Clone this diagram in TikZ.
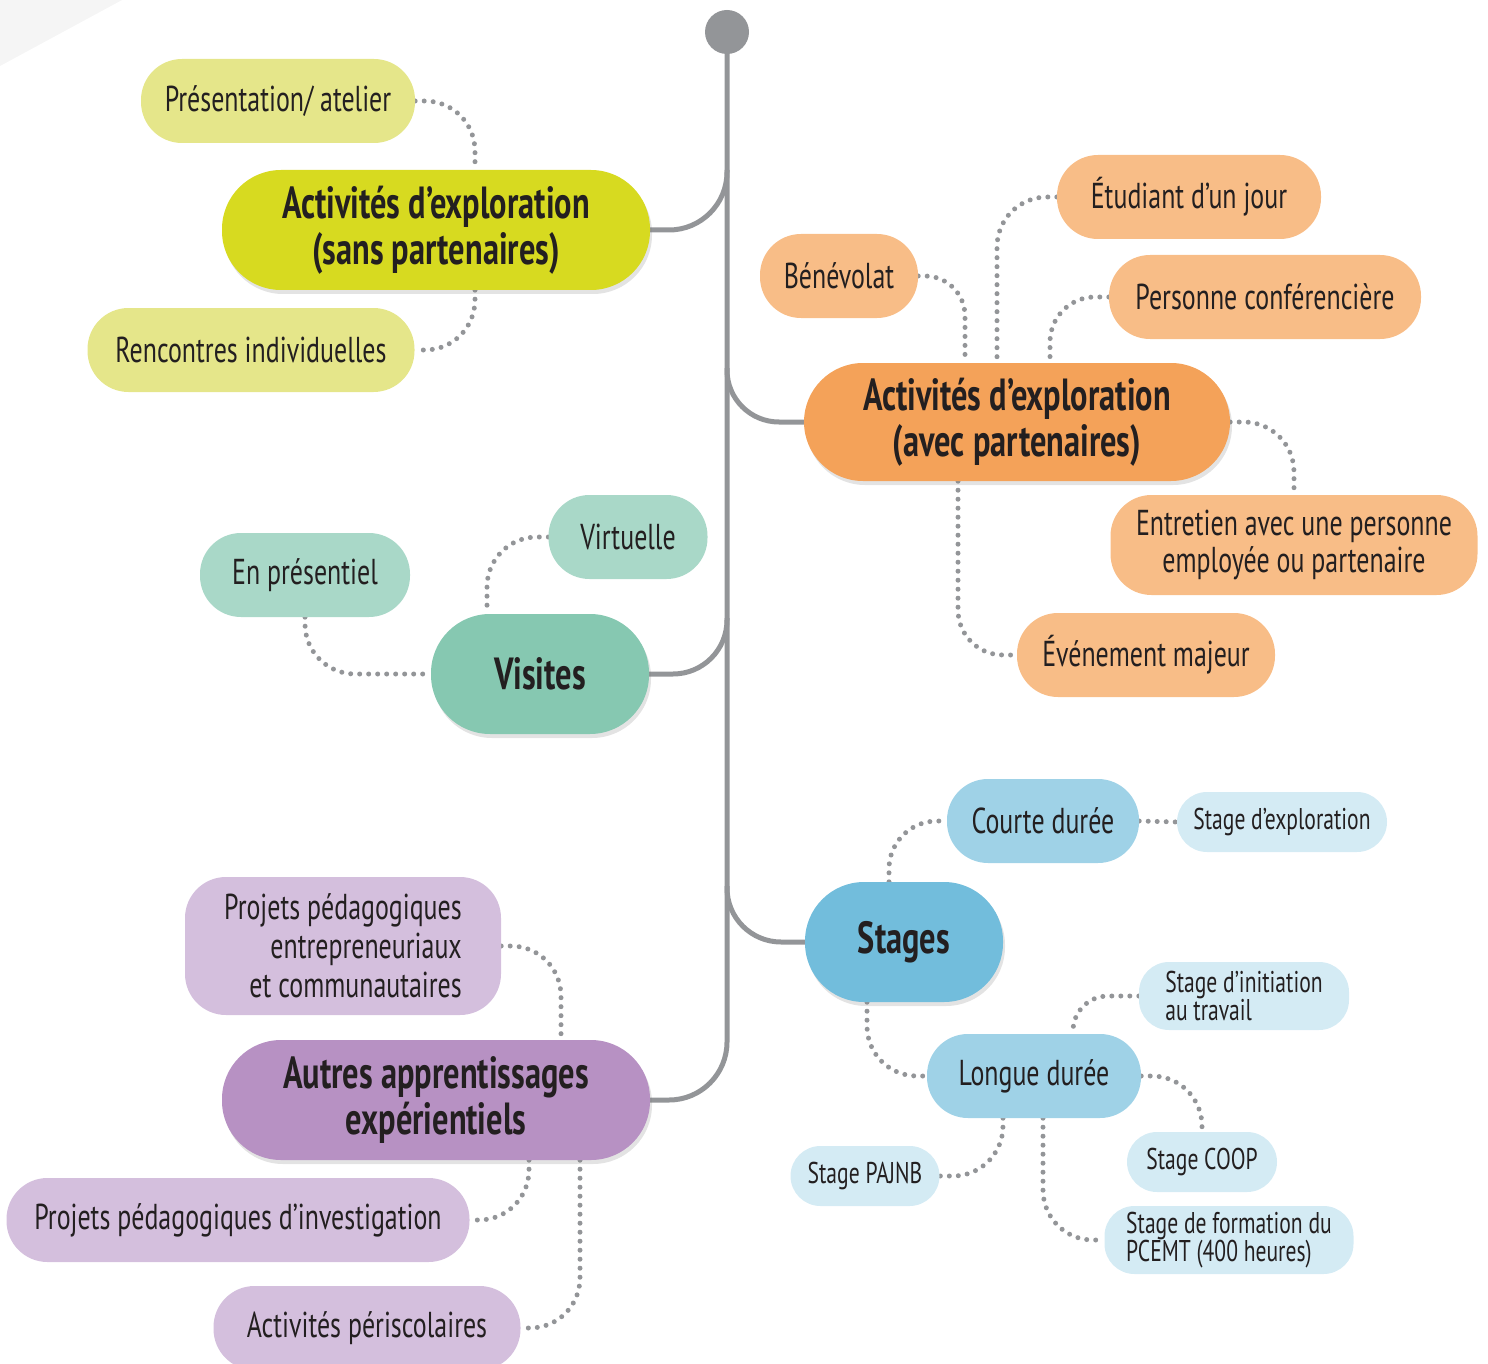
\documentclass[tikz,border=0pt]{standalone}
\usepackage{fontspec}
\setmainfont[FakeStretch=0.72]{PT Sans}
\usepackage{tikz}
\usetikzlibrary{shadows,backgrounds}

\definecolor{lineg}{HTML}{939598}
\definecolor{ink}{HTML}{231F20}
\definecolor{yelA}{HTML}{D7DA20}
\definecolor{yelB}{HTML}{E5E68A}
\definecolor{orA}{HTML}{F4A259}
\definecolor{orB}{HTML}{F8BD87}
\definecolor{teA}{HTML}{86C8B1}
\definecolor{teB}{HTML}{A9D8C8}
\definecolor{blA}{HTML}{72BDDC}
\definecolor{blB}{HTML}{9FD2E7}
\definecolor{blC}{HTML}{D4EBF4}
\definecolor{puA}{HTML}{B791C3}
\definecolor{puB}{HTML}{D4BFDD}

\begin{document}
\begin{tikzpicture}[x=1pt,y=-1pt,
	spine/.style={draw=lineg,line width=5pt},
	link/.style={draw=lineg,line width=5pt,line cap=round,dash pattern=on 0pt off 9pt,rounded corners=#1},
	link/.default=50pt,
	main/.style={fill=#1,rounded corners=59pt,minimum height=120pt,inner sep=0pt,align=center,text=ink,
		font=\bfseries\fontsize{45}{46}\selectfont,
		drop shadow={opacity=0.22,shadow xshift=2pt,shadow yshift=-4pt}},
	leaf/.style={fill=#1,rounded corners=41pt,minimum height=84pt,inner sep=0pt,align=center,text=ink,
		font=\fontsize{36}{37}\selectfont},
	tiny/.style={fill=blC,rounded corners=30pt,minimum height=60pt,inner sep=0pt,align=left,text=ink,
		font=\fontsize{30}{28}\selectfont}]
	\useasboundingbox (0,0) rectangle (1488,1364);
	\fill[gray!8] (0,0) -- (122,0) -- (0,66) -- cycle;

	% tronc
	\node[circle,fill=lineg,minimum size=44pt,inner sep=0pt] (top) at (727,32) {};

	\node[main=yelA,minimum width=428pt] (ea) at (436,230) {Activités d’exploration\\(sans partenaires)};
	\node[leaf=yelB,minimum width=274pt] (ea1) at (278,101) {Présentation/ atelier};
	\node[leaf=yelB,minimum width=327pt] (ea2) at (251,350) {Rencontres individuelles};

	\node[main=orA,minimum width=426pt,minimum height=118pt] (ep) at (1017,422) {Activités d’exploration\\(avec partenaires)};
	\node[leaf=orB,minimum width=158pt] (ep1) at (839,276) {Bénévolat};
	\node[leaf=orB,minimum width=264pt] (ep2) at (1189,197) {Étudiant d’un jour};
	\node[leaf=orB,minimum width=312pt] (ep3) at (1265,297) {Personne conférencière};
	\node[leaf=orB,minimum width=367pt,minimum height=100pt] (ep4) at (1294,545) {Entretien avec une personne\\employée ou partenaire};
	\node[leaf=orB,minimum width=258pt] (ep5) at (1146,655) {Événement majeur};

	\node[main=teA,minimum width=218pt] (vi) at (540,674) {Visites};
	\node[leaf=teB,minimum width=159pt] (vi1) at (628,537) {Virtuelle};
	\node[leaf=teB,minimum width=210pt] (vi2) at (305,575) {En présentiel};

	\node[main=blA,minimum width=198pt] (st) at (904,942) {Stages};
	\node[leaf=blB,minimum width=192pt] (st1) at (1043,821) {Courte durée};
	\node[leaf=blB,minimum width=214pt] (st2) at (1034,1076) {Longue durée};
	\node[tiny,minimum width=210pt] (st11) at (1282,822) {Stage d’exploration};
	\node[tiny,minimum width=210pt,minimum height=68pt] (st21) at (1244,996) {Stage d’initiation\\au travail};
	\node[tiny,minimum width=150pt] (st22) at (1202,1162) {Stage COOP};
	\node[tiny,minimum width=149pt] (st23) at (865,1176) {Stage PAJNB};
	\node[tiny,minimum width=249pt,minimum height=68pt] (st24) at (1229,1240) {Stage de formation du\\PCEMT (400 heures)};

	\node[main=puA,minimum width=428pt] (au) at (436,1100) {Autres apprentissages\\expérientiels};
	\node[leaf=puB,minimum width=316pt,minimum height=138pt,align=right,font=\fontsize{36}{39}\selectfont] (au1) at (343,946) {Projets pédagogiques\\entrepreneuriaux\\et communautaires};
	\node[leaf=puB,minimum width=463pt] (au2) at (238,1220) {Projets pédagogiques d’investigation};
	\node[leaf=puB,minimum width=307pt] (au3) at (367,1328) {Activités périscolaires};

	\begin{scope}[on background layer]
		\coordinate (j1) at (727,170);
		\coordinate (j2) at (727,368);
		\coordinate (j3) at (727,618);
		\coordinate (j4) at (727,886);
		\draw[spine,rounded corners=58pt] (top.center) |- (au.east);
		\draw[spine,rounded corners=58pt] (j1) |- (ea.east);
		\draw[spine,rounded corners=52pt] (j2) |- (ep.west);
		\draw[spine,rounded corners=54pt] (j3) |- (vi.east);
		\draw[spine,rounded corners=54pt] (j4) |- (st.west);

		\draw[link] (ea1.east) -| ([xshift=39pt]ea.north);
		\draw[link] ([xshift=39pt]ea.south) |- (ea2.east);

		\draw[link=40pt] (ep1.east) -| ([xshift=-52pt]ep.north);
		\draw[link] (ep2.west) -| ([xshift=-20pt]ep.north);
		\draw[link=45pt] (ep3.west) -| ([xshift=33pt]ep.north);
		\draw[link] (ep.east) -| (ep4.north);
		\draw[link=45pt] ([xshift=-59pt]ep.south) |- (ep5.west);

		\draw[link] (vi1.west) -| ([xshift=-53pt]vi.north);
		\draw[link] (vi2.south) |- (vi.west);

		\draw[link=48pt] ([xshift=-15pt]st.north) |- (st1.west);
		\draw[link] ([xshift=-37pt]st.south) |- (st2.west);
		\draw[link] (st1.east) -- (st11.west);
		\draw[link=35pt] (st21.west) -| ([xshift=39pt]st2.north);
		\draw[link] (st2.east) -| (st22.north);
		\draw[link] ([xshift=-31pt]st2.south) |- (st23.east);
		\draw[link] ([xshift=9pt]st2.south) |- (st24.west);

		\draw[link] (au1.east) -| ([xshift=125pt]au.north);
		\draw[link] ([xshift=93pt]au.south) |- (au2.east);
		\draw[link] ([xshift=144pt]au.south) |- (au3.east);
	\end{scope}
\end{tikzpicture}
\end{document}
